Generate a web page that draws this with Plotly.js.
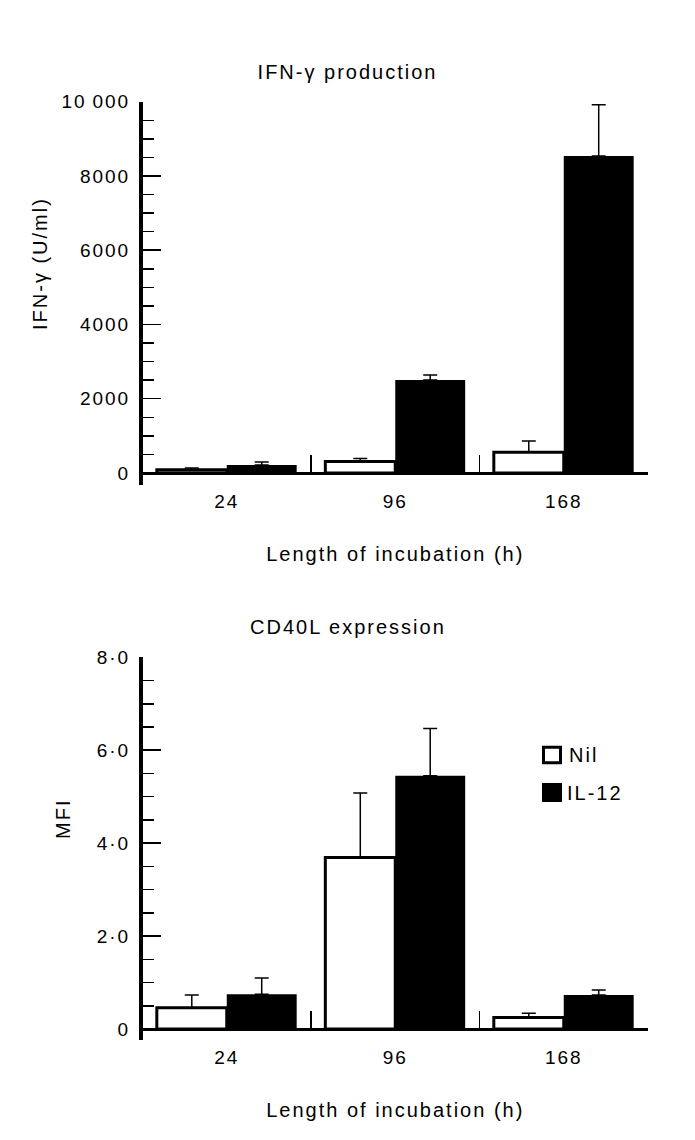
<!DOCTYPE html>
<html>
<head>
<meta charset="utf-8">
<script src="https://cdn.plot.ly/plotly-3.0.1.min.js"></script>
<style>
  html, body { margin: 0; padding: 0; background: #fff; }
  #chart { width: 695px; height: 1140px; }
  #chart svg text { letter-spacing: 2px; }
</style>
</head>
<body>
<div id="chart"></div>
<script>
// ---- data ----
const categories = ['24', '96', '168'];
const seriesNames = ['Nil', 'IL-12'];

const ifnNil = [90, 310, 560];
const ifnNilErr = [45, 80, 300];
const ifnIL12 = [215, 2505, 8540];
const ifnIL12Err = [80, 135, 1375];

const cdNil = [0.46, 3.69, 0.25];
const cdNilErr = [0.27, 1.39, 0.09];
const cdIL12 = [0.75, 5.45, 0.73];
const cdIL12Err = [0.35, 1.02, 0.11];

const ifnTickVals = [0, 2000, 4000, 6000, 8000, 10000];
const ifnTickText = ['0', '2000', '4000', '6000', '8000', '10\u2009000'];
const cdTickVals = [0, 2, 4, 6, 8];
const cdTickText = ['0', '2\u00b70', '4\u00b70', '6\u00b70', '8\u00b70'];

const topTitle = 'IFN-\u03b3 production';
const bottomTitle = 'CD40L expression';
const ifnYTitle = 'IFN-\u03b3 (U/ml)';
const cdYTitle = 'MFI';
const xTitle = 'Length of incubation (h)';

// ---- layout helpers (pixel -> paper) ----
const W = 695, H = 1140;
const px = v => v / W;
const py = v => 1 - v / H;
const FONT = 'Liberation Sans, Arial, Helvetica, sans-serif';

function errBar(arr) {
  return { type: 'data', symmetric: false, array: arr, arrayminus: arr.map(() => 0),
           color: '#000', thickness: 1.5, width: 7 };
}
function nilTrace(vals, errs, xa, ya) {
  return { type: 'bar', name: seriesNames[0], x: categories, y: vals, xaxis: xa, yaxis: ya,
    marker: { color: '#fff', line: { color: '#000', width: 3 } },
    error_y: errBar(errs), showlegend: false, hoverinfo: 'skip' };
}
function il12Trace(vals, errs, xa, ya) {
  return { type: 'bar', name: seriesNames[1], x: categories, y: vals, xaxis: xa, yaxis: ya,
    marker: { color: '#000', line: { color: '#000', width: 0 } },
    error_y: errBar(errs), showlegend: false, hoverinfo: 'skip' };
}

const data = [
  nilTrace(ifnNil, ifnNilErr, 'x', 'y'),
  il12Trace(ifnIL12, ifnIL12Err, 'x', 'y'),
  nilTrace(cdNil, cdNilErr, 'x2', 'y2'),
  il12Trace(cdIL12, cdIL12Err, 'x2', 'y2')
];

const tickFont = { family: FONT, size: 19, color: '#000' };
const titleFont = { family: FONT, size: 20, color: '#000' };

function xAxis(posPx) {
  return {
    type: 'category', domain: [px(142.5), px(648)], range: [-0.5, 2.5],
    anchor: 'free', position: py(posPx),
    showline: true, linewidth: 3, linecolor: '#000',
    ticks: 'inside', tickson: 'boundaries', ticklen: 17, tickwidth: 1.5, tickcolor: '#000',
    showgrid: false, zeroline: false, tickfont: tickFont, ticklabelstandoff: 10,
    title: { text: xTitle, font: titleFont, standoff: 36 }, fixedrange: true
  };
}
function yAxis(xId, topPx, botPx, range, tv, tt, minorD) {
  return {
    anchor: xId, domain: [py(botPx), py(topPx)], range: range,
    showline: true, linewidth: 3.5, linecolor: '#000',
    tickmode: 'array', tickvals: tv, ticktext: tt,
    ticks: 'inside', ticklen: 18, tickwidth: 1.5, tickcolor: '#000',
    minor: { tickmode: 'linear', tick0: 0, dtick: minorD, ticks: 'inside', ticklen: 11, tickwidth: 1.5, tickcolor: '#000', showgrid: false },
    showgrid: false, zeroline: false, tickfont: tickFont, ticklabelstandoff: 5, fixedrange: true
  };
}

const layout = {
  width: W, height: H, margin: { l: 0, r: 0, t: 0, b: 0, pad: 0 },
  paper_bgcolor: '#fff', plot_bgcolor: 'rgba(0,0,0,0)',
  font: { family: FONT, color: '#000' },
  barmode: 'group', bargap: 0.17, bargroupgap: 0,
  showlegend: false,
  title: { text: topTitle, font: titleFont, x: 0.5, xref: 'paper', xanchor: 'center',
           y: py(72), yref: 'paper', yanchor: 'middle' },
  xaxis: xAxis(473),
  yaxis: yAxis('x', 101.7, 485, [-323.2, 10000], ifnTickVals, ifnTickText, 500),
  xaxis2: xAxis(1029),
  yaxis2: yAxis('x2', 657.3, 1040, [-0.2368, 8], cdTickVals, cdTickText, 0.5),
  annotations: [
    { text: bottomTitle, xref: 'paper', yref: 'paper', x: 0.5, y: py(627), xanchor: 'center', yanchor: 'middle', showarrow: false, font: titleFont },
    { text: ifnYTitle, xref: 'paper', yref: 'paper', x: px(40), y: py(264), xanchor: 'center', yanchor: 'middle', textangle: -90, showarrow: false, font: titleFont },
    { text: cdYTitle, xref: 'paper', yref: 'paper', x: px(63), y: py(819), xanchor: 'center', yanchor: 'middle', textangle: -90, showarrow: false, font: titleFont },
    { text: seriesNames[0], xref: 'paper', yref: 'paper', x: px(570), y: py(755), xanchor: 'left', yanchor: 'middle', showarrow: false, font: { family: FONT, size: 20, color: '#000' } },
    { text: seriesNames[1], xref: 'paper', yref: 'paper', x: px(570), y: py(793), xanchor: 'left', yanchor: 'middle', showarrow: false, font: { family: FONT, size: 20, color: '#000' } }
  ],
  shapes: [
    { type: 'rect', xref: 'paper', yref: 'paper', x0: px(543.5), x1: px(560.5), y0: py(762.8), y1: py(747.2), fillcolor: '#fff', line: { color: '#000', width: 3 } },
    { type: 'rect', xref: 'paper', yref: 'paper', x0: px(542), x1: px(562), y0: py(802), y1: py(783), fillcolor: '#000', line: { color: '#000', width: 0 } }
  ]
};

Plotly.newPlot('chart', data, layout, { displayModeBar: false, staticPlot: true });
</script>
</body>
</html>
